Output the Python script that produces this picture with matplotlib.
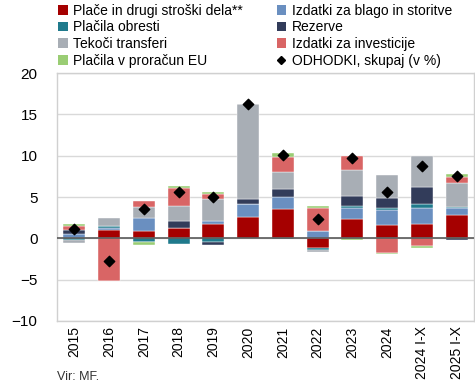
import numpy as np
import matplotlib
matplotlib.use('Agg')
import matplotlib.pyplot as plt
from matplotlib.patches import Patch
from matplotlib.lines import Line2D

years = ['2015', '2016', '2017', '2018', '2019', '2020', '2021', '2022',
         '2023', '2024', '2024 I-X', '2025 I-X']

# contributions (percentage points), stacked in this order
wages = [0.05, 0.95, 0.9, 1.3, 1.7, 2.55, 3.55, -1.13, 2.38, 1.61, 1.73, 2.82]
goods = [0.5, 0.3, 1.6, 0.0, 0.4, 1.6, 1.5, 0.89, 1.33, 1.86, 1.98, 0.81]
interest = [-0.2, 0.25, -0.4, -0.69, -0.4, 0.0, -0.1, -0.28, 0.2, 0.24, 0.44, 0.12]
reserves = [0.5, 0.0, -0.1, 0.77, -0.36, 0.6, 0.89, 0.0, 1.21, 1.13, 2.02, -0.24]
transfers = [-0.4, 0.92, 1.33, 1.85, 2.62, 11.5, 2.05, -0.24, 3.15, 2.78, 3.79, 2.98]
investment = [0.5, -5.15, 0.7, 2.14, 0.6, 0.07, 1.9, 2.78, 1.69, -1.81, -0.93, 0.73]
eu = [0.15, -0.05, -0.3, 0.28, 0.28, 0.0, 0.4, 0.28, -0.24, -0.12, -0.28, 0.28]
total = [1.1, -2.75, 3.6, 5.55, 4.95, 16.3, 10.1, 2.35, 9.7, 5.65, 8.75, 7.5]

series = [
    ('Plače in drugi stroški dela**', wages, '#A50000'),
    ('Izdatki za blago in storitve', goods, '#6A8FC0'),
    ('Plačila obresti', interest, '#1F7A8C'),
    ('Rezerve', reserves, '#323C5A'),
    ('Tekoči transferi', transfers, '#A8AEB5'),
    ('Izdatki za investicije', investment, '#D96565'),
    ('Plačila v proračun EU', eu, '#9ACD74'),
]

plt.rcParams['font.family'] = ['Liberation Sans', 'DejaVu Sans']
fig = plt.figure(figsize=(4.75, 3.89), dpi=100)
ax = fig.add_axes([0.12, 0.175, 0.878, 0.637])

x = np.arange(len(years))
pos = np.zeros(len(years))
neg = np.zeros(len(years))
handles = {}
for name, vals, col in series:
    v = np.array(vals)
    bottom = np.where(v >= 0, pos, neg)
    ax.bar(x, v, 0.63, bottom=bottom, color=col, edgecolor='white',
           linewidth=0.3, zorder=3)
    pos = pos + np.where(v >= 0, v, 0)
    neg = neg + np.where(v < 0, v, 0)
    handles[name] = Patch(facecolor=col, edgecolor='none')

ax.scatter(x, total, marker='D', s=28, color='black', zorder=5)
ax.axhline(0, color='#595959', linewidth=1.2, zorder=4)

ax.set_ylim(-10, 20)
ax.set_yticks([-10, -5, 0, 5, 10, 15, 20])
ax.set_xlim(-0.5, len(years) - 0.5)
ax.set_xticks(x)
ax.set_xticklabels(years, rotation=90, fontsize=10)
ax.tick_params(axis='y', labelsize=11, length=0, pad=14)
ax.tick_params(axis='x', length=0, pad=4)
ax.yaxis.grid(True, color='#D9D9D9', linewidth=1, zorder=0)
ax.set_axisbelow(True)
for s in ax.spines.values():
    s.set_color('#D0D0D0')
    s.set_linewidth(1)

order = ['Plače in drugi stroški dela**', 'Plačila obresti', 'Tekoči transferi',
         'Plačila v proračun EU', 'Izdatki za blago in storitve', 'Rezerve',
         'Izdatki za investicije']
hs = [handles[n] for n in order]
labels = list(order)
hs.append(Line2D([], [], marker='D', color='black', linestyle='none', markersize=4.5))
labels.append('ODHODKI, skupaj (v %)')
fig.legend(hs, labels, ncol=2, loc='upper left', bbox_to_anchor=(0.105, 1.012),
           frameon=False, fontsize=10, handlelength=0.7, handleheight=0.7,
           handletextpad=0.4, columnspacing=2.4, labelspacing=0.2,
           borderaxespad=0.2)

fig.text(0.12, 0.022, 'Vir: MF.', fontsize=9, color='#333333')

fig.savefig('out.png', dpi=100)
